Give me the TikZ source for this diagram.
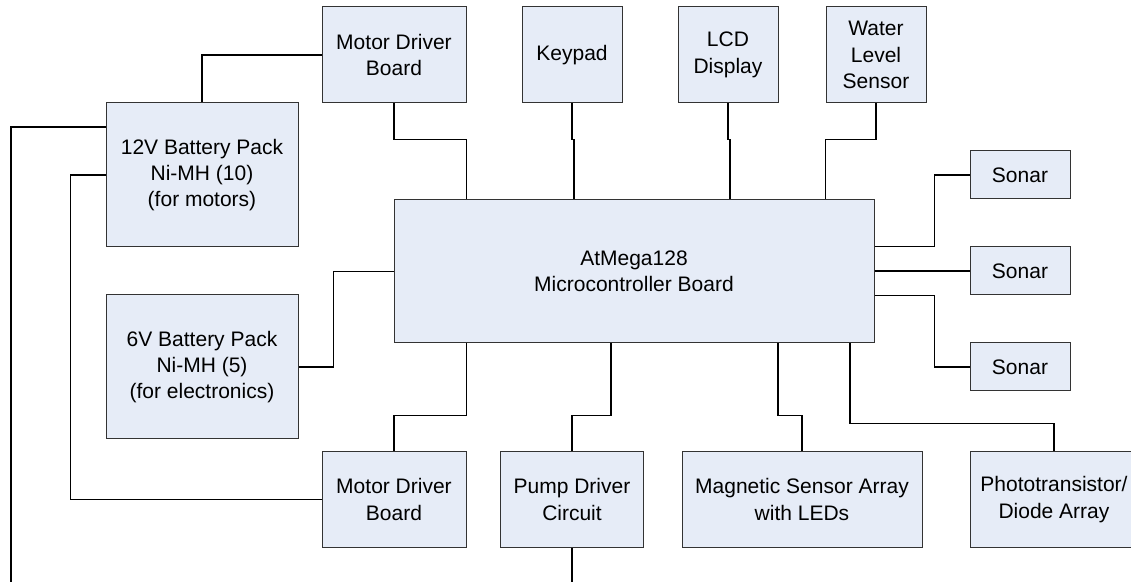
\documentclass[tikz,border=0pt]{standalone}
\usepackage{fontspec}
\setmainfont{Liberation Sans}
\definecolor{boxfill}{RGB}{230,236,247}
\begin{document}
\begin{tikzpicture}[x=0.5pt, y=-0.5pt, font=\fontsize{10.5}{13.2}\selectfont,
  bloque/.style={draw=black!80, fill=boxfill, align=center, inner sep=0pt, line width=0.5pt},
  cable/.style={line width=0.8pt}]
\useasboundingbox (0,0) rectangle (1131,582);
\clip (0,0) rectangle (1131,582);
% Modulos superiores
\node[bloque, minimum width=72pt, minimum height=48pt] (mdtop) at (394,55) {Motor Driver\\Board};
\node[bloque, minimum width=50pt, minimum height=48pt] (keypad) at (572,55) {Keypad};
\node[bloque, minimum width=50pt, minimum height=48pt] (lcd) at (728,55) {LCD\\Display};
\node[bloque, minimum width=50pt, minimum height=48pt] (water) at (876,55) {Water\\Level\\Sensor};
% Baterias
\node[bloque, minimum width=96pt, minimum height=72pt] (bat12) at (202,175) {12V Battery Pack\\Ni-MH (10)\\(for motors)};
\node[bloque, minimum width=96pt, minimum height=72pt] (bat6) at (202,367) {6V Battery Pack\\Ni-MH (5)\\(for electronics)};
% Placa principal
\node[bloque, minimum width=240pt, minimum height=71.5pt] (mcu) at (634,271.5) {AtMega128\\Microcontroller Board};
% Sonares
\node[bloque, minimum width=50pt, minimum height=24pt] (sonar1) at (1020,175) {Sonar};
\node[bloque, minimum width=50pt, minimum height=24pt] (sonar2) at (1020,271) {Sonar};
\node[bloque, minimum width=50pt, minimum height=24pt] (sonar3) at (1020,367) {Sonar};
% Modulos inferiores
\node[bloque, minimum width=72pt, minimum height=48pt] (mdbot) at (394,499.5) {Motor Driver\\Board};
\node[bloque, minimum width=71.5pt, minimum height=48pt] (pump) at (572,499.5) {Pump Driver\\Circuit};
\node[bloque, minimum width=120pt, minimum height=48pt] (magnet) at (802,499.5) {Magnetic Sensor Array\\with LEDs};
\node[bloque, minimum width=84pt, minimum height=48pt] (photo) at (1054,499.5) {Phototransistor/\\Diode Array};
\coordinate (fondo1) at (11,582);
\coordinate (fondo2) at (572,582);
% Conexiones arriba
\draw[cable] (mdtop.west) -| (bat12.north);
\draw[cable] (mdtop.south) -- ++(0,36) -| (mcu.north -| mdtop.east);
\draw[cable] (keypad.south) -- ++(0,36) -- ++(2,0) coordinate (k) -- (k |- mcu.north);
\draw[cable] (lcd.south) -- ++(0,36) -- ++(2,0) coordinate (l) -- (l |- mcu.north);
\draw[cable] (water.south) -- ++(0,36) -| (mcu.north -| water.west);
% Conexiones sonar
\draw[cable] (mcu.east |- sonar2.north) -- ++(60,0) |- (sonar1.west);
\draw[cable] (mcu.east |- sonar2.west) -- (sonar2.west);
\draw[cable] (mcu.east |- sonar2.south) -- ++(60,0) |- (sonar3.west);
% Conexiones abajo
\draw[cable] ([xshift=108pt]mcu.south) -- ++(0,80) -| (photo.north);
\draw[cable] ([xshift=72pt]mcu.south) -- ++(0,72) -| (magnet.north);
\draw[cable] ([xshift=-11.5pt]mcu.south) -- ++(0,72) -| (pump.north);
\draw[cable] (mcu.south -| mdbot.east) -- ++(0,72) -| (mdbot.north);
\draw[cable] (pump.south) -- (fondo2);
% Alimentacion
\draw[cable] (mcu.west) -- ++(-60,0) |- (bat6.east);
\draw[cable] ([yshift=24pt]bat12.west) -| (fondo1);
\draw[cable] (bat12.west) -- ++(-35,0) |- (mdbot.west);
\end{tikzpicture}
\end{document}
